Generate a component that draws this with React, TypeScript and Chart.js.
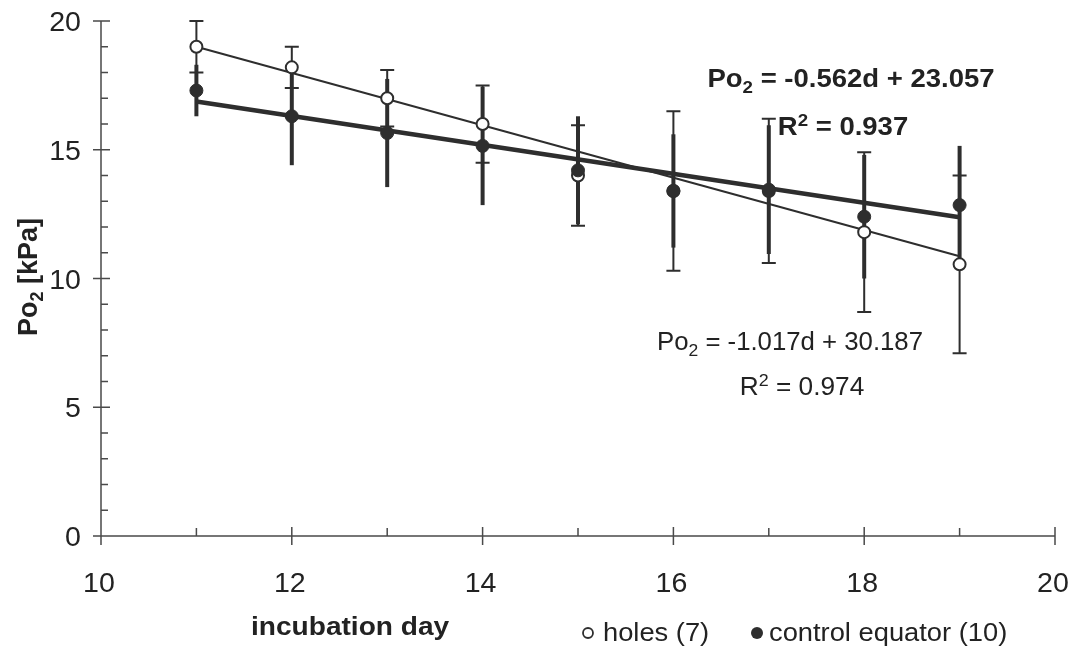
import React, { useEffect, useRef } from "react";
import { Chart, registerables } from "chart.js";

Chart.register(...registerables);

// ---------- data ----------
const days = [11, 12, 13, 14, 15, 16, 17, 18, 19];
const holesMean = [19.0, 18.2, 17.0, 16.0, 14.0, 13.4, 13.4, 11.8, 10.55];
const holesErr = [1.0, 0.8, 1.1, 1.5, 1.95, 3.1, 2.8, 3.1, 3.45];
const controlMean = [17.3, 16.3, 15.65, 15.15, 14.2, 13.4, 13.45, 12.4, 12.85];
const controlErr = [1.0, 1.9, 2.1, 2.3, 2.1, 2.2, 2.5, 2.4, 2.3];
const holesFit = { slope: -1.017, intercept: 30.187, r2: "0.974" };
const controlFit = { slope: -0.562, intercept: 23.057, r2: "0.937" };
const fitRange = [11, 19];
const xTicks = [10, 12, 14, 16, 18, 20];
const yTicks = [0, 5, 10, 15, 20];
const xTitle = "incubation day";
const holesLabel = "holes (7)";
const controlLabel = "control equator (10)";

const DARK = "#2e2e2e";
const AXIS = "#4a4a4a";
const TEXT = "#222222";
const FONT = '"Liberation Sans", Arial, Helvetica, sans-serif';

type Seg = { t: string; sub?: boolean; sup?: boolean };

function drawRich(
  ctx: CanvasRenderingContext2D,
  segs: Seg[],
  x: number,
  baseline: number,
  size: number,
  bold: boolean,
  align: "left" | "center" | "right",
  sx = 1
) {
  const w = bold ? "bold " : "";
  const main = `${w}${size}px ${FONT}`;
  const small = `${w}${Math.round(size * 0.66)}px ${FONT}`;
  let total = 0;
  segs.forEach((s) => {
    ctx.font = s.sub || s.sup ? small : main;
    total += ctx.measureText(s.t).width;
  });
  ctx.save();
  ctx.translate(x, baseline);
  ctx.scale(sx, 1);
  ctx.fillStyle = TEXT;
  ctx.textBaseline = "alphabetic";
  ctx.textAlign = "left";
  let cx = align === "center" ? -total / 2 : align === "right" ? -total : 0;
  segs.forEach((s) => {
    ctx.font = s.sub || s.sup ? small : main;
    const dy = s.sub ? size * 0.22 : s.sup ? -size * 0.38 : 0;
    ctx.fillText(s.t, cx, dy);
    cx += ctx.measureText(s.t).width;
  });
  ctx.restore();
}

const errorBarPlugin = {
  id: "errorBars",
  beforeDatasetsDraw(chart: any) {
    const { ctx, scales } = chart;
    const x = scales.x;
    const y = scales.y;
    ctx.save();
    ctx.strokeStyle = DARK;
    ctx.lineCap = "butt";
    // control: thick, no caps
    ctx.lineWidth = 4;
    days.forEach((d, i) => {
      const px = x.getPixelForValue(d);
      ctx.beginPath();
      ctx.moveTo(px, y.getPixelForValue(controlMean[i] - controlErr[i]));
      ctx.lineTo(px, y.getPixelForValue(controlMean[i] + controlErr[i]));
      ctx.stroke();
    });
    // holes: thin, with caps
    ctx.lineWidth = 2;
    days.forEach((d, i) => {
      const px = x.getPixelForValue(d);
      const lo = y.getPixelForValue(holesMean[i] - holesErr[i]);
      const hi = y.getPixelForValue(holesMean[i] + holesErr[i]);
      ctx.beginPath();
      ctx.moveTo(px, lo);
      ctx.lineTo(px, hi);
      ctx.moveTo(px - 7, lo);
      ctx.lineTo(px + 7, lo);
      ctx.moveTo(px - 7, hi);
      ctx.lineTo(px + 7, hi);
      ctx.stroke();
    });
    ctx.restore();
  },
};

const axesPlugin = {
  id: "customAxes",
  beforeDatasetsDraw(chart: any) {
    const { ctx, scales } = chart;
    const x = scales.x;
    const y = scales.y;
    const left = x.left;
    const bottom = y.bottom;
    ctx.save();
    ctx.strokeStyle = AXIS;
    ctx.lineWidth = 1.5;
    ctx.beginPath();
    ctx.moveTo(left, y.top);
    ctx.lineTo(left, bottom);
    ctx.moveTo(left, bottom);
    ctx.lineTo(x.right, bottom);
    // y ticks
    for (let v = y.min; v <= y.max; v += 1) {
      const py = y.getPixelForValue(v);
      if (v % 5 === 0) {
        ctx.moveTo(left - 8, py);
        ctx.lineTo(left + 9, py);
      } else {
        ctx.moveTo(left, py);
        ctx.lineTo(left + 7, py);
      }
    }
    // x ticks
    for (let v = x.min; v <= x.max; v += 1) {
      const px = x.getPixelForValue(v);
      if (v % 2 === 0) {
        ctx.moveTo(px, bottom - 9);
        ctx.lineTo(px, bottom + 9);
      } else {
        ctx.moveTo(px, bottom - 8);
        ctx.lineTo(px, bottom);
      }
    }
    ctx.stroke();
    ctx.restore();
    // tick labels
    yTicks.forEach((v) => {
      drawRich(ctx, [{ t: String(v) }], 81, y.getPixelForValue(v) + 10, 28, false, "right", 1.02);
    });
    xTicks.forEach((v) => {
      drawRich(ctx, [{ t: String(v) }], x.getPixelForValue(v) - 2, bottom + 56, 28, false, "center", 1.02);
    });
  },
};

const textPlugin = {
  id: "texts",
  afterDraw(chart: any) {
    const { ctx } = chart;
    // y axis title
    ctx.save();
    ctx.translate(37, 277);
    ctx.rotate(-Math.PI / 2);
    drawRich(ctx, [{ t: "Po" }, { t: "2", sub: true }, { t: " [kPa]" }], 0, 0, 27, true, "center");
    ctx.restore();
    // x axis title
    drawRich(ctx, [{ t: xTitle }], 251, 635, 26, true, "left", 1.08);
    // legend
    ctx.save();
    ctx.strokeStyle = DARK;
    ctx.fillStyle = DARK;
    ctx.lineWidth = 1.8;
    ctx.beginPath();
    ctx.arc(588, 633, 5, 0, Math.PI * 2);
    ctx.stroke();
    ctx.beginPath();
    ctx.arc(757, 633, 6, 0, Math.PI * 2);
    ctx.fill();
    ctx.restore();
    drawRich(ctx, [{ t: holesLabel }], 603, 641, 26, false, "left", 1.05);
    drawRich(ctx, [{ t: controlLabel }], 769, 641, 26, false, "left", 1.05);
    // control equation (bold)
    const cs = controlFit.slope.toFixed(3);
    const ci = controlFit.intercept.toFixed(3);
    drawRich(ctx, [{ t: "Po" }, { t: "2", sub: true }, { t: ` = ${cs}d + ${ci}` }], 851, 87, 25, true, "center", 1.1);
    drawRich(ctx, [{ t: "R" }, { t: "2", sup: true }, { t: ` = ${controlFit.r2}` }], 843, 135, 25, true, "center", 1.1);
    // holes equation
    const hs = holesFit.slope.toFixed(3);
    const hi = holesFit.intercept.toFixed(3);
    drawRich(ctx, [{ t: "Po" }, { t: "2", sub: true }, { t: ` = ${hs}d + ${hi}` }], 790, 350, 25, false, "center", 1.03);
    drawRich(ctx, [{ t: "R" }, { t: "2", sup: true }, { t: ` = ${holesFit.r2}` }], 802, 395, 25, false, "center", 1.05);
  },
};

export default function App() {
  const ref = useRef<HTMLCanvasElement | null>(null);
  useEffect(() => {
    if (!ref.current) return;
    const fitLine = (f: { slope: number; intercept: number }) =>
      fitRange.map((d) => ({ x: d, y: f.slope * d + f.intercept }));
    const chart = new Chart(ref.current, {
      type: "scatter",
      data: {
        datasets: [
          {
            label: holesLabel,
            data: days.map((d, i) => ({ x: d, y: holesMean[i] })),
            pointRadius: 6,
            pointBackgroundColor: "#ffffff",
            pointBorderColor: DARK,
            pointBorderWidth: 2,
            showLine: false,
            order: 1,
          },
          {
            label: controlLabel,
            data: days.map((d, i) => ({ x: d, y: controlMean[i] })),
            pointRadius: 6.5,
            pointBackgroundColor: DARK,
            pointBorderColor: DARK,
            pointBorderWidth: 1,
            showLine: false,
            order: 0,
          },
          {
            label: "holes fit",
            data: fitLine(holesFit),
            showLine: true,
            borderColor: DARK,
            borderWidth: 2,
            pointRadius: 0,
            order: 3,
          },
          {
            label: "control fit",
            data: fitLine(controlFit),
            showLine: true,
            borderColor: DARK,
            borderWidth: 4.5,
            pointRadius: 0,
            order: 2,
          },
        ],
      },
      options: {
        animation: false,
        responsive: false,
        devicePixelRatio: 1,
        layout: { padding: { left: 0, top: 21, right: 18, bottom: 0 } },
        plugins: { legend: { display: false }, tooltip: { enabled: false }, title: { display: false } },
        scales: {
          x: {
            type: "linear",
            min: 10,
            max: 20,
            grid: { display: false, drawTicks: false },
            border: { display: false },
            ticks: { display: false },
            afterFit: (s: any) => {
              s.height = 111;
            },
          },
          y: {
            type: "linear",
            min: 0,
            max: 20,
            grid: { display: false, drawTicks: false },
            border: { display: false },
            ticks: { display: false },
            afterFit: (s: any) => {
              s.width = 101;
            },
          },
        },
      },
      plugins: [axesPlugin, errorBarPlugin, textPlugin],
    } as any);
    return () => chart.destroy();
  }, []);
  return (
    <div style={{ position: "fixed", left: 0, top: 0, width: 1073, height: 647, background: "#fff" }}>
      <canvas ref={ref} width={1073} height={647} style={{ display: "block" }} />
    </div>
  );
}
